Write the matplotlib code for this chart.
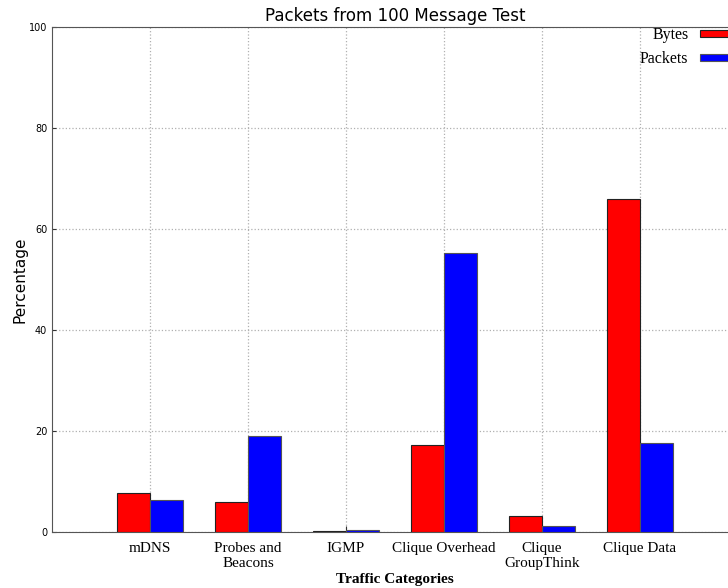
import matplotlib
matplotlib.use('Agg')
import matplotlib.pyplot as plt
import numpy as np

categories = ['mDNS', 'Probes and\nBeacons', 'IGMP', 'Clique Overhead', 'Clique\nGroupThink', 'Clique Data']
bytes_pct = [7.7, 6.0, 0.2, 17.2, 3.2, 65.9]
packets_pct = [6.4, 19.1, 0.4, 55.3, 1.25, 17.6]

fig = plt.figure(figsize=(7.28, 5.88), dpi=100)
# right edge of the plot runs past the figure, as in the original
ax = fig.add_axes([52 / 728, 56 / 588, 686 / 728, 505 / 588])

x = np.arange(1, len(categories) + 1)
width = 0.335
ax.bar(x - width / 2, bytes_pct, width, color='#ff0000', edgecolor='#222222', lw=0.8, label='Bytes', zorder=3)
ax.bar(x + width / 2, packets_pct, width, color='#0000ff', edgecolor='#555555', lw=0.8, label='Packets', zorder=3)

ax.set_xlim(0, 7)
ax.set_ylim(0, 100)
ax.set_yticks([0, 20, 40, 60, 80, 100])
ax.tick_params(axis='y', labelsize=7, direction='in', length=3, colors='#333333')
ax.set_xticks(x)
ax.set_xticklabels(categories, family='Liberation Serif', fontsize=11, va='top')
ax.tick_params(axis='x', direction='in', length=4, colors='#333333', pad=7)
for lab in ax.get_xticklabels():
    lab.set_color('black')
for lab in ax.get_yticklabels():
    lab.set_color('black')

ax.grid(True, ls=':', color='#b0b0b0', lw=0.9, zorder=0)
for s in ax.spines.values():
    s.set_color('#555555')

ax.set_title('Packets from 100 Message Test', fontsize=12, pad=4)
ax.set_ylabel('Percentage', fontsize=11, labelpad=1)
ax.set_xlabel('Traffic Categories', family='Liberation Serif', fontsize=11, fontweight='bold', labelpad=2)

ax.legend(loc='upper right', markerfirst=False, frameon=False, borderaxespad=0.0,
          bbox_to_anchor=(1.0, 1.012),
          prop={'family': 'Liberation Serif', 'size': 11.5}, handlelength=2.0, handleheight=0.35,
          labelspacing=0.5, handletextpad=0.7)

plt.savefig('out.png', dpi=100)
